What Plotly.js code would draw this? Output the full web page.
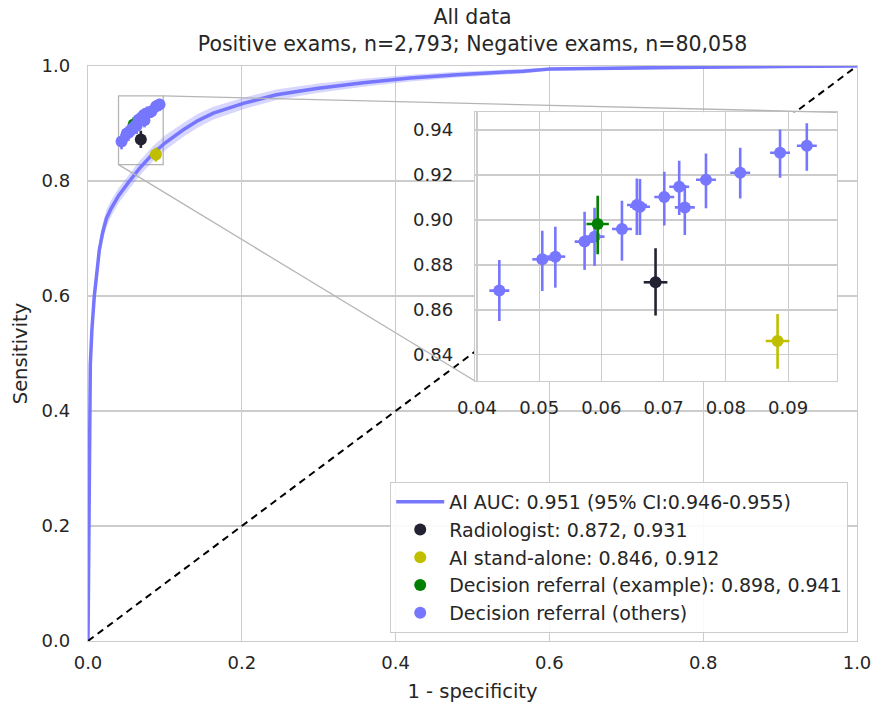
<!DOCTYPE html>
<html>
<head>
<meta charset="utf-8">
<script src="https://cdn.plot.ly/plotly-3.0.1.min.js"></script>
<style>html,body{margin:0;padding:0;background:#fff;}#chart{width:876px;height:706px;}</style>
</head>
<body>
<div id="chart"></div>
<script>
// ROC curve of the AI (1 - specificity, sensitivity) and its 95% CI band
const fprAI = [0, 0.0003, 0.0008, 0.0012, 0.0017, 0.003, 0.005, 0.0082, 0.0115, 0.0147, 0.019, 0.024, 0.030, 0.040, 0.054, 0.067, 0.084, 0.100, 0.124, 0.143, 0.163, 0.202, 0.245, 0.297, 0.358, 0.419, 0.48, 0.55, 0.566, 0.603, 0.70, 0.796, 0.90, 1.0];
const tprAI = [0, 0.05, 0.15, 0.30, 0.40, 0.48, 0.54, 0.60, 0.64, 0.68, 0.71, 0.735, 0.752, 0.775, 0.80, 0.822, 0.847, 0.866, 0.889, 0.905, 0.918, 0.935, 0.950, 0.961, 0.971, 0.979, 0.985, 0.989, 0.991, 0.995, 0.997, 0.998, 0.999, 1.0];
const tprCILow = [0, 0.04, 0.13, 0.28, 0.38, 0.46, 0.52, 0.585, 0.625, 0.665, 0.695, 0.72, 0.738, 0.762, 0.787, 0.809, 0.834, 0.853, 0.877, 0.893, 0.907, 0.925, 0.941, 0.953, 0.964, 0.973, 0.980, 0.985, 0.987, 0.992, 0.995, 0.997, 0.998, 1.0];
const tprCIHigh = [0, 0.06, 0.17, 0.32, 0.42, 0.50, 0.56, 0.615, 0.655, 0.695, 0.725, 0.75, 0.766, 0.788, 0.813, 0.835, 0.86, 0.879, 0.901, 0.917, 0.929, 0.945, 0.959, 0.969, 0.978, 0.985, 0.99, 0.993, 0.995, 0.998, 0.999, 0.999, 1.0, 1.0];

// Operating points (x = 1 - specificity, y = sensitivity) with CI extents
const radX = [0.0687], radY = [0.8723], radYPlus = [0.0151], radYMinus = [0.0148], radXErr = [0.0019];
const aloneX = [0.0883], aloneY = [0.8462], aloneYPlus = [0.0120], aloneYMinus = [0.0124], aloneXErr = [0.0019];
const exX = [0.0594], exY = [0.8982], exYPlus = [0.0126], exYMinus = [0.0134], exXErr = [0.0018];
const othX = [0.0436, 0.0505, 0.0526, 0.0573, 0.0589, 0.0633, 0.0657, 0.0662, 0.0701, 0.0725, 0.0734, 0.0768, 0.0823, 0.0887, 0.0930];
const othY = [0.8686, 0.8825, 0.8837, 0.8904, 0.8926, 0.8960, 0.9067, 0.9059, 0.9102, 0.9148, 0.9056, 0.9179, 0.9210, 0.9299, 0.9330];
const othYPlus = [0.0136, 0.0127, 0.0133, 0.0133, 0.0129, 0.0126, 0.0118, 0.0123, 0.0113, 0.0116, 0.0100, 0.0117, 0.0111, 0.0104, 0.0100];
const othYMinus = [0.0135, 0.0141, 0.0138, 0.0126, 0.0130, 0.0141, 0.0134, 0.0126, 0.0127, 0.0126, 0.0123, 0.0127, 0.0114, 0.0111, 0.0111];
const othXErr = [0.0016, 0.0016, 0.0016, 0.0016, 0.0016, 0.0016, 0.0016, 0.0016, 0.0016, 0.0016, 0.0016, 0.0016, 0.0016, 0.0016, 0.0016];

const names = ['AI AUC: 0.951 (95% CI:0.946-0.955)', 'Radiologist: 0.872, 0.931', 'AI stand-alone: 0.846, 0.912', 'Decision referral (example): 0.898, 0.941', 'Decision referral (others)'];
const diagX = [0, 1], diagY = [0, 1];

const insetXRange = [0.0397, 0.0978];
const insetYRange = [0.8284, 0.9479];
const insetXDomain = [0.5033, 0.9736];
const insetYDomain = [0.4522, 0.9195];

const BLUE = '#7676fe', DARK = '#222233', YEL = '#bfbf00', GRN = '#008000';
const FONT = 'DejaVu Sans, sans-serif', TXT = '#262626';

function pts(x, y, yp, ym, xe, color, name, inset) {
  return {
    x: x, y: y, type: 'scatter', mode: 'markers', name: name,
    xaxis: inset ? 'x2' : 'x', yaxis: inset ? 'y2' : 'y',
    showlegend: !inset,
    marker: {color: color, size: 12},
    error_y: {type: 'data', symmetric: false, array: yp, arrayminus: ym, color: color, thickness: 2.6, width: 0},
    error_x: {type: 'data', array: xe, color: color, thickness: 2.6, width: 0},
    hoverinfo: 'x+y'
  };
}

const traces = [
  {x: fprAI, y: tprCILow, type: 'scatter', mode: 'lines', line: {width: 0, color: 'rgba(118,118,255,0)'}, showlegend: false, hoverinfo: 'skip'},
  {x: fprAI, y: tprCIHigh, type: 'scatter', mode: 'lines', fill: 'tonexty', fillcolor: 'rgba(118,118,255,0.3)', line: {width: 0, color: 'rgba(118,118,255,0)'}, showlegend: false, hoverinfo: 'skip'},
  {x: fprAI, y: tprAI, type: 'scatter', mode: 'lines', name: names[0], line: {color: BLUE, width: 3.5}},
  {x: diagX, y: diagY, type: 'scatter', mode: 'lines', line: {color: '#000000', width: 2, dash: '7px,5px'}, showlegend: false, hoverinfo: 'skip'},
  pts(radX, radY, radYPlus, radYMinus, radXErr, DARK, names[1], false),
  pts(aloneX, aloneY, aloneYPlus, aloneYMinus, aloneXErr, YEL, names[2], false),
  pts(exX, exY, exYPlus, exYMinus, exXErr, GRN, names[3], false),
  pts(othX, othY, othYPlus, othYMinus, othXErr, BLUE, names[4], false),
  pts(radX, radY, radYPlus, radYMinus, radXErr, DARK, names[1], true),
  pts(aloneX, aloneY, aloneYPlus, aloneYMinus, aloneXErr, YEL, names[2], true),
  pts(othX, othY, othYPlus, othYMinus, othXErr, BLUE, names[4], true),
  pts(exX, exY, exYPlus, exYMinus, exXErr, GRN, names[3], true)
];

const mainXRange = [0, 1], mainYRange = [0, 1];
function toPaper(v, r) { return (v - r[0]) / (r[1] - r[0]); }

const axisCommon = {
  showgrid: true, gridcolor: '#cccccc', gridwidth: 1.2, zeroline: false,
  showline: true, mirror: true, linecolor: '#cccccc', linewidth: 1.3,
  ticks: '', tickfont: {family: FONT, size: 18, color: TXT}
};

const layout = {
  width: 876, height: 706,
  margin: {l: 88, r: 19, t: 66, b: 65},
  paper_bgcolor: '#ffffff', plot_bgcolor: '#ffffff',
  font: {family: FONT, color: TXT},
  title: {
    text: 'All data<br>Positive exams, n=2,793; Negative exams, n=80,058',
    font: {family: FONT, size: 20.5, color: TXT},
    x: 0.5, xref: 'paper', xanchor: 'center',
    y: 0.966, yref: 'container', yanchor: 'top'
  },
  xaxis: Object.assign({}, axisCommon, {
    range: mainXRange, domain: [0, 1], dtick: 0.2, tickformat: '.1f', ticklabelstandoff: 5,
    title: {text: '1 - specificity', font: {family: FONT, size: 19.5, color: TXT}, standoff: 12}
  }),
  yaxis: Object.assign({}, axisCommon, {
    range: mainYRange, domain: [0, 1], dtick: 0.2, tickformat: '.1f', ticklabelstandoff: 13,
    title: {text: 'Sensitivity', font: {family: FONT, size: 19.5, color: TXT}, standoff: 8}
  }),
  xaxis2: Object.assign({}, axisCommon, {
    anchor: 'y2', domain: insetXDomain, range: insetXRange, dtick: 0.01, tick0: 0, tickformat: '.2f', ticklabelstandoff: 10
  }),
  yaxis2: Object.assign({}, axisCommon, {
    anchor: 'x2', domain: insetYDomain, range: insetYRange, dtick: 0.02, tick0: 0, tickformat: '.2f', ticklabelstandoff: 17
  }),
  legend: {
    x: 0.393, y: 0.2765, xanchor: 'left', yanchor: 'top', traceorder: 'normal', itemwidth: 48,
    bgcolor: 'rgba(255,255,255,0.9)', bordercolor: '#cccccc', borderwidth: 1,
    font: {family: FONT, size: 19, color: TXT}
  },
  shapes: [
    {type: 'rect', xref: 'x', yref: 'y', x0: insetXRange[0], x1: insetXRange[1], y0: insetYRange[0], y1: insetYRange[1],
     line: {color: '#b5b5b5', width: 1.3}, layer: 'below'},
    {type: 'line', xref: 'paper', yref: 'paper',
     x0: toPaper(insetXRange[1], mainXRange), y0: toPaper(insetYRange[1], mainYRange),
     x1: insetXDomain[1], y1: insetYDomain[1], line: {color: '#b5b5b5', width: 1.3}, layer: 'above'},
    {type: 'line', xref: 'paper', yref: 'paper',
     x0: toPaper(insetXRange[0], mainXRange), y0: toPaper(insetYRange[0], mainYRange),
     x1: insetXDomain[0], y1: insetYDomain[0], line: {color: '#b5b5b5', width: 1.3}, layer: 'above'}
  ]
};

Plotly.newPlot('chart', traces, layout, {displayModeBar: false, staticPlot: true});
</script>
</body>
</html>
